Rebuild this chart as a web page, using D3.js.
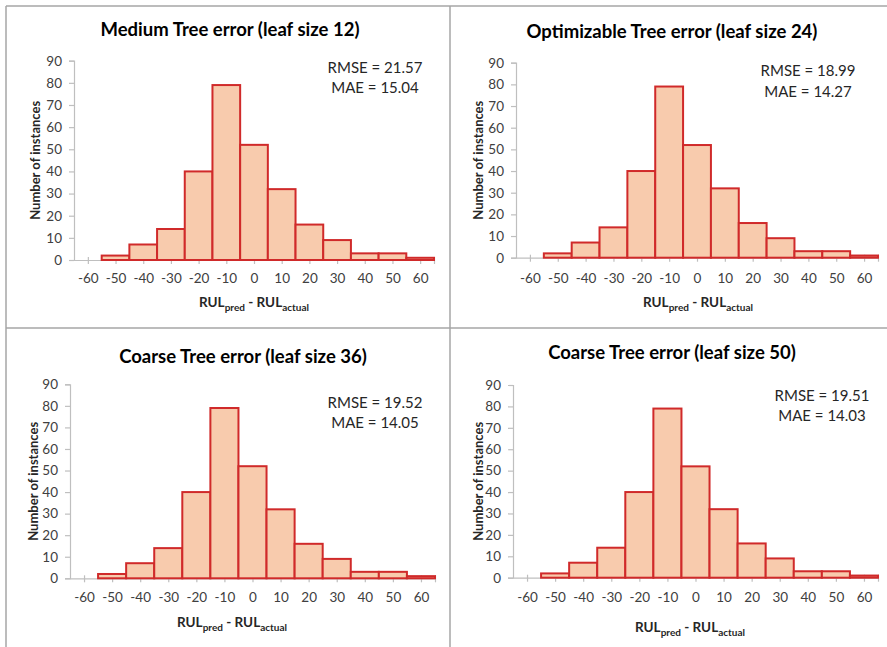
<!DOCTYPE html>
<html>
<head>
<meta charset="utf-8">
<script src="https://cdn.jsdelivr.net/npm/d3@7"></script>
<style>
  html, body { margin: 0; padding: 0; background: #fff; }
  svg { display: block; font-family: Lato, "Open Sans", sans-serif; }
</style>
</head>
<body>
<svg id="chart" width="887" height="647"></svg>
<script>
// ---- data ----
const binCenters = [-50, -40, -30, -20, -10, 0, 10, 20, 30, 40, 50, 60];
const countsMedium12 = [2, 7, 14, 40, 79, 52, 32, 16, 9, 3, 3, 1];
const countsOptimizable24 = [2, 7, 14, 40, 79, 52, 32, 16, 9, 3, 3, 1];
const countsCoarse36 = [2, 7, 14, 40, 79, 52, 32, 16, 9, 3, 3, 1];
const countsCoarse50 = [2, 7, 14, 40, 79, 52, 32, 16, 9, 3, 3, 1];
const titles = ["Medium Tree error (leaf size 12)", "Optimizable Tree error (leaf size 24)",
                "Coarse Tree error (leaf size 36)", "Coarse Tree error (leaf size 50)"];
const rmseValues = ["21.57", "18.99", "19.52", "19.51"];
const maeValues = ["15.04", "14.27", "14.05", "14.03"];
const xTickValues = [-60, -50, -40, -30, -20, -10, 0, 10, 20, 30, 40, 50, 60];
const yTickValues = [0, 10, 20, 30, 40, 50, 60, 70, 80, 90];
const binWidth = 10;
const xDomain = [-65, 65];
const yDomain = [0, 90];

const seriesList = [countsMedium12, countsOptimizable24, countsCoarse36, countsCoarse50];

// ---- layout (pixels) ----
const layout = [
  { xr: [74, 434], yr: [260, 60.7], title: [230, 36], stats: [375, 73, 93], yl: 40, xtb: 283, xl: [254, 307] },
  { xr: [516, 878], yr: [257.7, 62.7], title: [672, 38], stats: [808, 76, 97], yl: 483, xtb: 283, xl: [698, 307] },
  { xr: [70, 435], yr: [578.3, 384.3], title: [243, 363], stats: [375, 408, 428], yl: 38, xtb: 602, xl: [232, 627] },
  { xr: [513, 878], yr: [577.7, 385], title: [672, 359], stats: [822, 401, 421], yl: 483, xtb: 602, xl: [690, 632] }
];

const svg = d3.select("#chart");

// panel borders
const borderColor = "#a6a6a6";
const borders = svg.append("g").attr("stroke", borderColor).attr("stroke-width", 1.5);
borders.append("line").attr("x1", 6).attr("x2", 887).attr("y1", 6).attr("y2", 6);
borders.append("line").attr("x1", 6).attr("x2", 6).attr("y1", 6).attr("y2", 647);
borders.append("line").attr("x1", 450).attr("x2", 450).attr("y1", 6).attr("y2", 647);
borders.append("line").attr("x1", 6).attr("x2", 887).attr("y1", 328).attr("y2", 328);

const fmt = d => String(d);

seriesList.forEach((counts, i) => {
  const L = layout[i];
  const g = svg.append("g");
  const x = d3.scaleLinear().domain(xDomain).range(L.xr);
  const y = d3.scaleLinear().domain(yDomain).range(L.yr);
  const axisColor = "#bfbfbf";
  const labelColor = "#404040";

  // y axis
  const yAxis = g.append("g").attr("transform", `translate(${L.xr[0]},0)`)
    .call(d3.axisLeft(y).tickValues(yTickValues).tickSize(5).tickPadding(7).tickFormat(fmt));
  yAxis.select(".domain").attr("stroke", axisColor).attr("stroke-width", 1.2);
  yAxis.selectAll(".tick line").attr("stroke", axisColor).attr("stroke-width", 1.2);
  yAxis.selectAll(".tick text").attr("fill", labelColor).style("font-size", "13.5px").style("font-family", "Lato, sans-serif");

  // x axis
  const y0 = y(0);
  const xAxis = g.append("g").attr("transform", `translate(0,${y0})`)
    .call(d3.axisBottom(x).tickValues(xTickValues.concat([xDomain[1]])).tickSize(0).tickSizeOuter(0)
      .tickFormat(d => d === xDomain[1] ? "" : fmt(d)));
  xAxis.select(".domain").attr("stroke", axisColor).attr("stroke-width", 1.2);
  xAxis.selectAll(".tick line").attr("stroke", axisColor).attr("stroke-width", 1.2).attr("y1", -3).attr("y2", 4);
  xAxis.selectAll(".tick text").attr("fill", labelColor).style("font-size", "13.5px")
    .style("font-family", "Lato, sans-serif").attr("y", null).attr("dy", null)
    .attr("transform", `translate(0,${L.xtb - y0})`);

  // bars
  g.append("g").selectAll("rect").data(counts).join("rect")
    .attr("x", (d, j) => x(binCenters[j] - binWidth / 2))
    .attr("width", (d, j) => x(binCenters[j] + binWidth / 2) - x(binCenters[j] - binWidth / 2))
    .attr("y", d => y(d))
    .attr("height", d => y0 - y(d))
    .attr("fill", "#f8cbad")
    .attr("stroke", "#d02a2a")
    .attr("stroke-width", 2);

  // title
  g.append("text").attr("x", L.title[0]).attr("y", L.title[1])
    .attr("text-anchor", "middle").attr("font-weight", "bold").style("font-size", "18.5px")
    .attr("fill", "#000").text(titles[i]);

  // stats
  g.append("text").attr("x", L.stats[0]).attr("y", L.stats[1]).attr("text-anchor", "middle")
    .style("font-size", "15px").attr("fill", "#262626").text("RMSE = " + rmseValues[i]);
  g.append("text").attr("x", L.stats[0]).attr("y", L.stats[2]).attr("text-anchor", "middle")
    .style("font-size", "15px").attr("fill", "#262626").text("MAE = " + maeValues[i]);

  // y label
  const ymid = (L.yr[0] + L.yr[1]) / 2;
  g.append("text").attr("transform", `translate(${L.yl},${ymid}) rotate(-90)`)
    .attr("text-anchor", "middle").attr("font-weight", "bold").style("font-size", "13px")
    .attr("fill", "#262626").text("Number of instances");

  // x label with subscripts
  const xl = g.append("text").attr("x", L.xl[0]).attr("y", L.xl[1]).attr("text-anchor", "middle")
    .attr("font-weight", "bold").style("font-size", "13.5px").attr("fill", "#262626");
  xl.append("tspan").text("RUL");
  xl.append("tspan").attr("dy", 4).style("font-size", "10px").text("pred");
  xl.append("tspan").attr("dy", -4).text(" - RUL");
  xl.append("tspan").attr("dy", 4).style("font-size", "10px").text("actual");
});
</script>
</body>
</html>
